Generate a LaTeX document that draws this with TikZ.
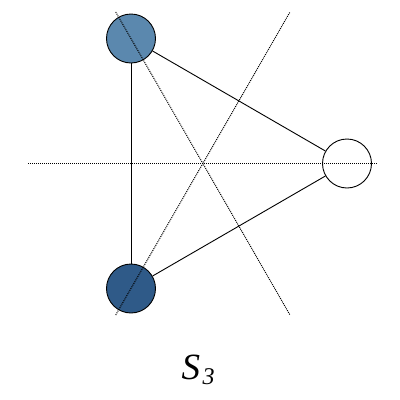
\documentclass[tikz,border=0pt]{standalone}
\usepackage{fontspec}
\setmainfont{Liberation Serif}
\definecolor{vtop}{RGB}{91,136,174}
\definecolor{vbot}{RGB}{47,90,136}
\tikzset{
  vert/.style={circle, draw=black, line width=0.9pt, minimum size=49pt, inner sep=0pt},
  axis/.style={densely dotted, line width=1pt, draw=black},
  edge/.style={line width=0.9pt, draw=black}
}
\begin{document}
\begin{tikzpicture}[x=1pt,y=-1pt]
  \useasboundingbox (0,0) rectangle (400,400);
  % axes
  \coordinate (h1) at (28,163.5);
  \coordinate (h2) at (378,163.5);
  \coordinate (a1) at (115.7,12);
  \coordinate (a2) at (290,315);
  \coordinate (b1) at (115.7,315);
  \coordinate (b2) at (290,12);
  % vertices
  \node[vert, fill=vtop] (t) at (131,38.5) {};
  \node[vert, fill=vbot] (b) at (131,288.5) {};
  \node[vert, fill=white] (r) at (347,163.5) {};
  \draw[edge] (t) -- (b);
  \draw[edge] (t) -- (r);
  \draw[edge] (b) -- (r);
  \draw[axis] (h1) -- (h2);
  \draw[axis] (a1) -- (a2);
  \draw[axis] (b1) -- (b2);
  \node[anchor=base, inner sep=0pt] (lbl) at (198,379) {\fontsize{37}{40}\selectfont\itshape S\kern2.5pt\raisebox{-5pt}{\fontsize{24}{28}\selectfont 3}};
\end{tikzpicture}
\end{document}
